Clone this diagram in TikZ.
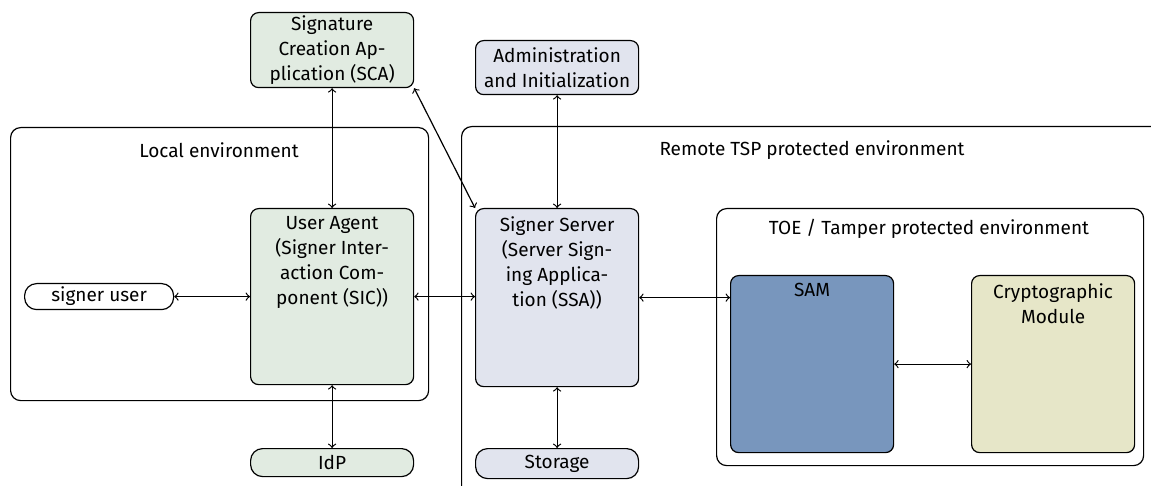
\documentclass[tikz,border=0pt]{standalone}
\usepackage{fontspec}
\setmainfont{Fira Sans}
\usetikzlibrary{positioning}

\definecolor{usergreen}{HTML}{E1EBE1}
\definecolor{serverblue}{HTML}{E1E4EE}
\definecolor{samblue}{HTML}{7896BD}
\definecolor{cryptokhaki}{HTML}{E6E6C8}

\tikzstyle{every picture}=[line width=0.6pt]
\tikzstyle{env}=[draw, rounded corners=5pt, anchor=north west, inner sep=0pt]
\tikzstyle{box}=[draw, rounded corners=4pt, anchor=north west, inner sep=0pt, minimum width=81.5pt, align=center]
\tikzstyle{pill}=[box, rounded corners=6pt]
\tikzstyle{boxtitle}=[anchor=north, align=center, inner sep=0pt, yshift=-4pt]

\begin{document}
\begin{tikzpicture}[x=0.5pt,y=-0.5pt,font=\fontsize{9.5}{12.5}\selectfont]
	% Rahmen
	\clip (0,0) rectangle (1151,486);
	% Umgebungen
	\node[env, minimum width=209pt, minimum height=136.5pt] (localenv) at (10,127) {};
	\node[env, minimum width=400pt, minimum height=200pt] (remoteenv) at (461,126) {};
	\node[env, minimum width=213.5pt, minimum height=128.5pt] (toeenv) at (716,208) {};
	\node (localtitle) at (219,150) {Local environment};
	\node (remotetitle) at (812,150) {Remote TSP protected environment};
	\node (toetitle) at (929,229) {TOE / Tamper protected environment};
	% Komponenten
	\node[box, fill=usergreen, minimum height=37.5pt] (sca) at (250,12) {Signature\\Creation Ap-\\plication (SCA)};
	\node[box, fill=serverblue, minimum height=27pt] (admin) at (475,40) {Administration\\and Initialization};
	\node[pill, minimum width=74.5pt, minimum height=13pt] (signer) at (24,283) {signer user};
	\node[box, fill=usergreen, minimum height=88pt,
		label={[boxtitle]north:User Agent\\(Signer Inter-\\action Com-\\ponent (SIC))}] (agent) at (250,208) {};
	\node[box, fill=serverblue, minimum height=89pt,
		label={[boxtitle]north:Signer Server\\(Server Sign-\\ing Applica-\\tion (SSA))}] (server) at (475,208) {};
	\node[box, fill=samblue, minimum height=88.5pt,
		label={[boxtitle]north:SAM}] (sam) at (730,275) {};
	\node[box, fill=cryptokhaki, minimum height=88.5pt,
		label={[boxtitle]north:Cryptographic\\Module}] (crypto) at (971,275) {};
	\node[pill, fill=usergreen, minimum height=14pt] (idp) at (250,448) {IdP};
	\node[pill, fill=serverblue, minimum height=15pt] (storage) at (475,448) {Storage};
	% Verbindungen
	\draw[<->] (sca) -- (agent);
	\draw[<->] (sca.south east) -- (server.north west);
	\draw[<->] (admin) -- (server);
	\draw[<->] (signer.east |- agent.west) -- (agent.west);
	\draw[<->] (agent.east) -- (agent.east -| server.west);
	\draw[<->] (server.east) -- (server.east -| sam.west);
	\draw[<->] (sam.east) -- (crypto.west);
	\draw[<->] (agent) -- (idp);
	\draw[<->] (server) -- (storage);
\end{tikzpicture}
\end{document}
